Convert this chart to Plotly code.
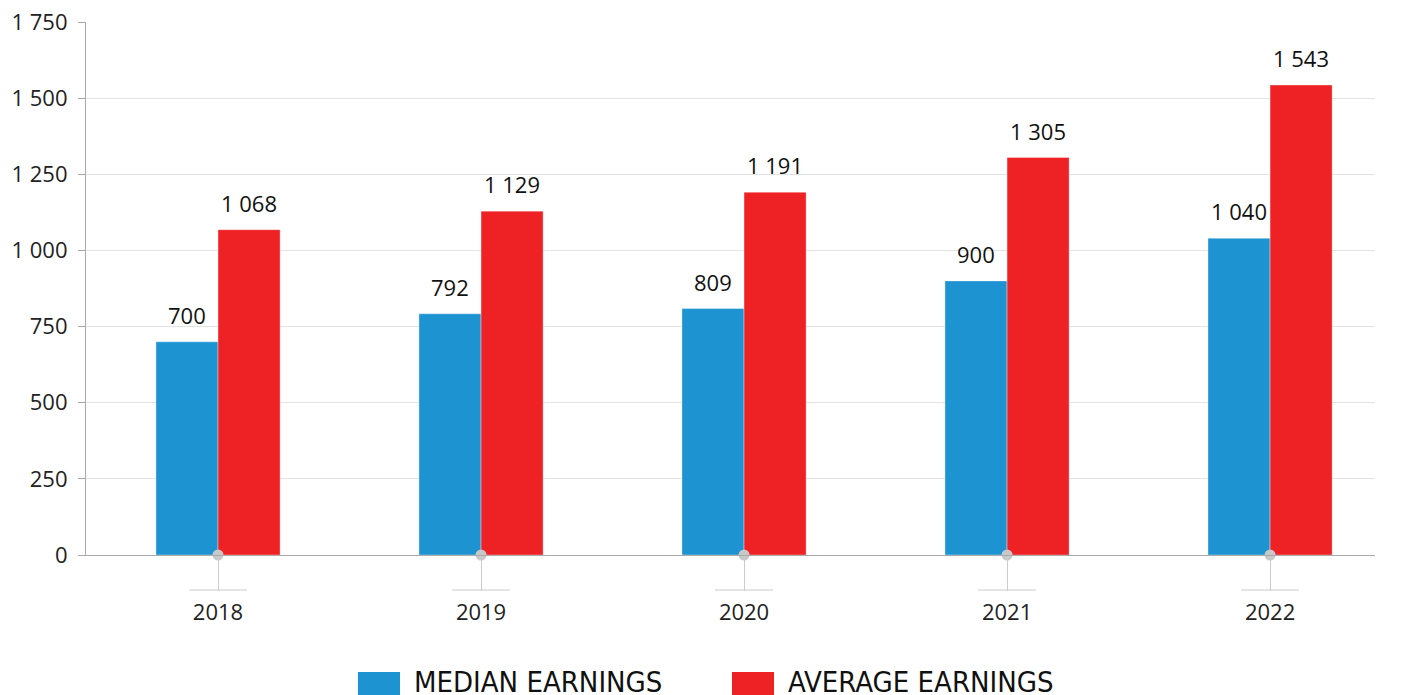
import plotly.graph_objects as go

years = ["2018", "2019", "2020", "2021", "2022"]
median_earnings = [700, 792, 809, 900, 1040]
average_earnings = [1068, 1129, 1191, 1305, 1543]
series_names = ["MEDIAN EARNINGS", "AVERAGE EARNINGS"]
y_ticks = [0, 250, 500, 750, 1000, 1250, 1500, 1750]

BLUE = "#1e93d2"
RED = "#ee2125"
FONT = "Open Sans"
LEG_FONT = "DejaVu Sans Condensed, Liberation Sans Narrow, Roboto Condensed, Roboto"

W, H = 1407, 695
ML, MR, MT, MB = 86, 32, 22, 140
PW = W - ML - MR
PH = H - MT - MB

def fmt(v):
    return f"{v:,}".replace(",", " ")

xs = list(range(len(years)))
bw = 0.236

fig = go.Figure()
fig.add_trace(go.Bar(x=xs, y=median_earnings, width=bw, offset=-bw, name=series_names[0],
                     marker=dict(color=BLUE, line=dict(width=1, color="rgba(255,255,255,0.35)")),
                     showlegend=False, hoverinfo="y"))
fig.add_trace(go.Bar(x=xs, y=average_earnings, width=bw, offset=0, name=series_names[1],
                     marker=dict(color=RED, line=dict(width=1, color="rgba(255,255,255,0.35)")),
                     showlegend=False, hoverinfo="y"))
# axis dots
fig.add_trace(go.Scatter(x=xs, y=[0] * len(xs), mode="markers", cliponaxis=False,
                         marker=dict(size=11, color="#c8c8c8"), showlegend=False, hoverinfo="skip"))

annotations = []
for i, (m, a) in enumerate(zip(median_earnings, average_earnings)):
    annotations.append(dict(x=i - bw / 2, y=m, text=fmt(m), showarrow=False, yanchor="bottom",
                            yshift=10, font=dict(family=FONT, size=22, color="#111")))
    annotations.append(dict(x=i + bw / 2, y=a, text=fmt(a), showarrow=False, yanchor="bottom",
                            yshift=10, font=dict(family=FONT, size=22, color="#111")))

def px_x(p):
    return (p - ML) / PW

def px_y(p):
    return (MT + PH - p) / PH

shapes = []
# short horizontal tick caps below each category
for i in xs:
    shapes.append(dict(type="line", xref="x", yref="paper", x0=i - 0.11, x1=i + 0.11,
                       y0=px_y(590), y1=px_y(590), line=dict(color="#cccccc", width=1.2)))

# custom legend
legend_items = [(358, BLUE, series_names[0]), (732, RED, series_names[1])]
for x0, col, name in legend_items:
    shapes.append(dict(type="rect", xref="paper", yref="paper", x0=px_x(x0), x1=px_x(x0 + 42),
                       y0=px_y(700), y1=px_y(672), line=dict(width=0), fillcolor=col))
    annotations.append(dict(xref="paper", yref="paper", x=px_x(x0 + 54), y=px_y(682),
                            xanchor="left", yanchor="middle", text=name, showarrow=False,
                            font=dict(family=LEG_FONT, size=29, color="#111")))

fig.update_layout(
    width=W, height=H,
    margin=dict(l=ML, r=MR, t=MT, b=MB, autoexpand=False),
    plot_bgcolor="white", paper_bgcolor="white",
    barmode="overlay",
    font=dict(family=FONT, size=22, color="#222"),
    xaxis=dict(range=[-0.502, 4.399], tickmode="array", tickvals=xs, ticktext=years,
               showgrid=False, zeroline=False, showline=True, linecolor="#aaaaaa", linewidth=1.2,
               ticks="outside", ticklen=35, tickcolor="#cccccc", tickwidth=1.2, automargin=False,
               tickfont=dict(family=FONT, size=22, color="#222"), ticklabelstandoff=2),
    yaxis=dict(range=[0, 1750], tickmode="array", tickvals=y_ticks,
               ticktext=[fmt(v) for v in y_ticks], automargin=False,
               showgrid=True, gridcolor="#e3e3e3", gridwidth=1, zeroline=False,
               showline=True, linecolor="#aaaaaa", linewidth=1.2,
               ticks="outside", ticklen=7, tickcolor="#aaaaaa",
               tickfont=dict(family=FONT, size=22, color="#222"), ticklabelstandoff=6),
    annotations=annotations,
    shapes=shapes,
)

fig.write_html("out.html", config={"displayModeBar": False},
               post_script="document.body.style.margin='0';document.body.style.overflow='hidden';")
